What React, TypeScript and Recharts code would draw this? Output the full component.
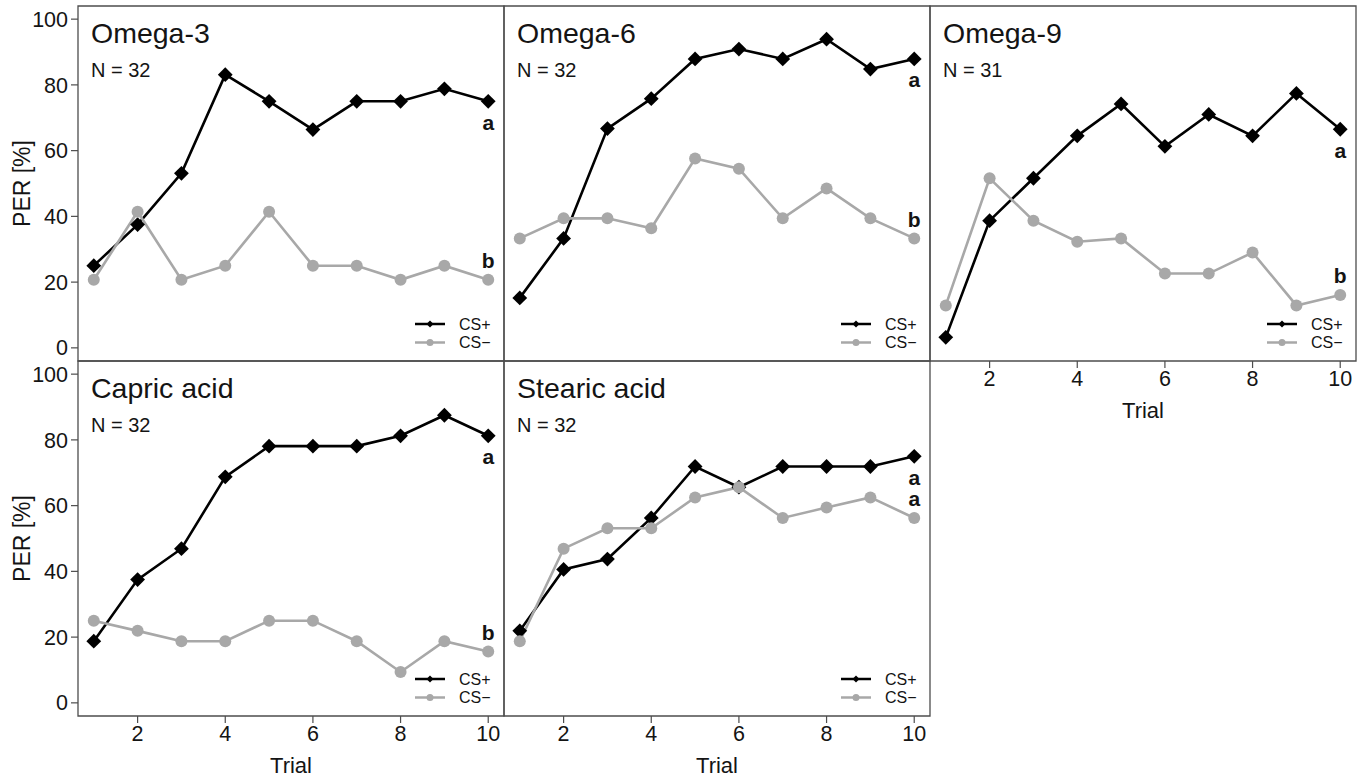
import React from 'react';
import { LineChart, Line, XAxis, YAxis, ReferenceArea, Legend, LabelList } from 'recharts';

const trials = [1, 2, 3, 4, 5, 6, 7, 8, 9, 10];
const xTicks = [2, 4, 6, 8, 10];
const yTicks = [0, 20, 40, 60, 80, 100];

const omega3CSplus = [25, 37.5, 53.1, 83.1, 75, 66.4, 75, 75, 78.8, 75];
const omega3CSminus = [20.7, 41.4, 20.7, 25, 41.4, 25, 25, 20.7, 25, 20.7];
const omega6CSplus = [15.2, 33.3, 66.7, 75.8, 87.9, 90.9, 87.9, 93.9, 84.8, 87.9];
const omega6CSminus = [33.3, 39.4, 39.4, 36.4, 57.6, 54.5, 39.4, 48.5, 39.4, 33.3];
const omega9CSplus = [3.2, 38.7, 51.6, 64.5, 74.2, 61.3, 71.0, 64.5, 77.4, 66.5];
const omega9CSminus = [12.9, 51.6, 38.7, 32.3, 33.3, 22.6, 22.6, 29.0, 12.9, 16.1];
const capricCSplus = [18.75, 37.5, 46.9, 68.75, 78.1, 78.1, 78.1, 81.25, 87.5, 81.25];
const capricCSminus = [25, 21.9, 18.75, 18.75, 25, 25, 18.75, 9.4, 18.75, 15.6];
const stearicCSplus = [21.9, 40.6, 43.75, 56.25, 71.9, 65.6, 71.9, 71.9, 71.9, 75];
const stearicCSminus = [18.75, 46.9, 53.1, 53.1, 62.5, 65.6, 56.25, 59.4, 62.5, 56.25];

const titles = ['Omega-3', 'Omega-6', 'Omega-9', 'Capric acid', 'Stearic acid'];
const sampleSizes = ['N = 32', 'N = 32', 'N = 31', 'N = 32', 'N = 32'];
const lettersPlus = ['a', 'a', 'a', 'a', 'a'];
const lettersMinus = ['b', 'b', 'b', 'b', 'a'];
const legendLabels = ['CS+', 'CS\u2212'];
const yLabel = 'PER [%]';
const xLabel = 'Trial';

const FONT = '"Liberation Sans", Arial, Helvetica, sans-serif';
const X_DOMAIN: [number, number] = [0.64, 10.36];
const Y_DOMAIN: [number, number] = [-4, 104];
const PLOT_W = 426;
const PLOT_H = 355;
const PLOT_LEFT = 78;
const PLOT_TOP = 6;
const X_AXIS_H = 62;
const CHART_W = PLOT_LEFT + PLOT_W + 10;
const CHART_H = PLOT_TOP + PLOT_H + X_AXIS_H;
const FRAME = '#4d4d4d';
const GRAY = '#a8a8a8';
const TEXT = '#141414';

const panels = [
  { plus: omega3CSplus, minus: omega3CSminus, col: 0, row: 0, showX: false, showY: true },
  { plus: omega6CSplus, minus: omega6CSminus, col: 1, row: 0, showX: false, showY: false },
  { plus: omega9CSplus, minus: omega9CSminus, col: 2, row: 0, showX: true, showY: false },
  { plus: capricCSplus, minus: capricCSminus, col: 0, row: 1, showX: true, showY: true },
  { plus: stearicCSplus, minus: stearicCSminus, col: 1, row: 1, showX: true, showY: false },
];

const Diamond = (props: any) => {
  const { cx, cy, index } = props;
  if (cx == null || cy == null) return <g key={`d-${index}`} />;
  const r = 7.4;
  return (
    <path
      key={`d-${index}`}
      d={`M${cx},${cy - r}L${cx + r},${cy}L${cx},${cy + r}L${cx - r},${cy}Z`}
      fill="#000"
      stroke="none"
    />
  );
};

const Dot = (props: any) => {
  const { cx, cy, index } = props;
  if (cx == null || cy == null) return <g key={`c-${index}`} />;
  return <circle key={`c-${index}`} cx={cx} cy={cy} r={6} fill={GRAY} stroke="none" />;
};

const makeLetter = (letter: string, dy: number) => (props: any) => {
  const idx = props.index;
  if (idx !== trials.length - 1) return null;
  const x = props.x ?? props.viewBox?.x;
  const y = props.y ?? props.viewBox?.y;
  return (
    <text
      key={`l-${letter}-${dy}`}
      x={x}
      y={y + dy}
      textAnchor="middle"
      dominantBaseline="central"
      fontFamily={FONT}
      fontWeight="bold"
      fontSize={21}
      fill={TEXT}
    >
      {letter}
    </text>
  );
};

const LegendBox = () => (
  <svg width={100} height={40} style={{ display: 'block' }}>
    <line x1={0} x2={30} y1={9} y2={9} stroke="#000" strokeWidth={2.5} />
    <path d="M15,5.5L18.5,9L15,12.5L11.5,9Z" fill="#000" />
    <text x={44} y={9} dominantBaseline="central" fontFamily={FONT} fontSize={16} fill={TEXT}>
      {legendLabels[0]}
    </text>
    <line x1={0} x2={30} y1={27.5} y2={27.5} stroke={GRAY} strokeWidth={2.5} />
    <circle cx={15} cy={27.5} r={3.5} fill={GRAY} />
    <text x={44} y={27.5} dominantBaseline="central" fontFamily={FONT} fontSize={16} fill={TEXT}>
      {legendLabels[1]}
    </text>
  </svg>
);

function Panel({ i }: { i: number }) {
  const p = panels[i];
  const data = trials.map((t, k) => ({ trial: t, plus: p.plus[k], minus: p.minus[k] }));
  const left = p.col * PLOT_W;
  const top = p.row * PLOT_H;
  return (
    <div style={{ position: 'absolute', left, top, width: CHART_W, height: CHART_H }}>
      <LineChart
        width={CHART_W}
        height={CHART_H}
        data={data}
        margin={{ top: PLOT_TOP, right: 10, bottom: p.showX ? 0 : X_AXIS_H, left: p.showY ? 8 : PLOT_LEFT }}
      >
        <XAxis
          type="number"
          dataKey="trial"
          domain={X_DOMAIN}
          ticks={xTicks}
          hide={!p.showX}
          height={X_AXIS_H}
          axisLine={false}
          tickLine={{ stroke: FRAME, strokeWidth: 1.2 }}
          tickSize={7}
          tickMargin={3}
          tick={{ fontSize: 21.5, fill: TEXT, fontFamily: FONT }}
          interval={0}
          label={(lp: any) => {
            const vb = lp.viewBox || {};
            return (
              <text
                x={vb.x + vb.width / 2}
                y={vb.y + 49}
                textAnchor="middle"
                dominantBaseline="central"
                fontFamily={FONT}
                fontSize={22}
                fill={TEXT}
              >
                {xLabel}
              </text>
            );
          }}
        />
        <YAxis
          type="number"
          domain={Y_DOMAIN}
          ticks={yTicks}
          hide={!p.showY}
          width={70}
          axisLine={false}
          tickLine={{ stroke: FRAME, strokeWidth: 1.2 }}
          tickSize={7}
          tickMargin={3}
          tick={{ fontSize: 21.5, fill: TEXT, fontFamily: FONT }}
          interval={0}
          label={(lp: any) => {
            const vb = lp.viewBox || {};
            const cx = vb.x + 14;
            const cy = vb.y + vb.height / 2;
            return (
              <text
                x={cx}
                y={cy}
                transform={`rotate(-90, ${cx}, ${cy})`}
                textAnchor="middle"
                dominantBaseline="central"
                fontFamily={FONT}
                fontSize={23}
                fill={TEXT}
              >
                {yLabel}
              </text>
            );
          }}
        />
        <ReferenceArea
          x1={X_DOMAIN[0]}
          x2={X_DOMAIN[1]}
          y1={Y_DOMAIN[0]}
          y2={Y_DOMAIN[1]}
          fill="none"
          fillOpacity={0}
          stroke={FRAME}
          strokeWidth={1.3}
          ifOverflow="visible"
          label={(lp: any) => {
            const vb = lp.viewBox || {};
            return (
              <g>
                <text x={vb.x + 13} y={vb.y + 36.5} fontFamily={FONT} fontSize={28.5} fill={TEXT}>
                  {titles[i]}
                </text>
                <text x={vb.x + 13} y={vb.y + 71.3} fontFamily={FONT} fontSize={20} fill={TEXT}>
                  {sampleSizes[i]}
                </text>
              </g>
            );
          }}
        />
        <Line
          type="linear"
          dataKey="plus"
          stroke="#000"
          strokeWidth={2.6}
          dot={Diamond}
          activeDot={false}
          isAnimationActive={false}
          legendType="none"
        >
          <LabelList dataKey="plus" content={makeLetter(lettersPlus[i], 21)} />
        </Line>
        <Line
          type="linear"
          dataKey="minus"
          stroke={GRAY}
          strokeWidth={2.6}
          dot={Dot}
          activeDot={false}
          isAnimationActive={false}
          legendType="none"
        >
          <LabelList dataKey="minus" content={makeLetter(lettersMinus[i], -19)} />
        </Line>
        <Legend
          layout="vertical"
          align="center"
          verticalAlign="middle"
          content={() => <LegendBox />}
          wrapperStyle={{ left: PLOT_LEFT + 337, top: PLOT_TOP + PLOT_H - 46, width: 100, height: 40 }}
        />
      </LineChart>
    </div>
  );
}

export default function App() {
  return (
    <div
      style={{
        position: 'absolute',
        left: 0,
        top: 0,
        width: 1365,
        height: 778,
        overflow: 'hidden',
        background: '#fff',
        fontFamily: FONT,
      }}
    >
      {panels.map((_, i) => (
        <Panel key={i} i={i} />
      ))}
    </div>
  );
}
